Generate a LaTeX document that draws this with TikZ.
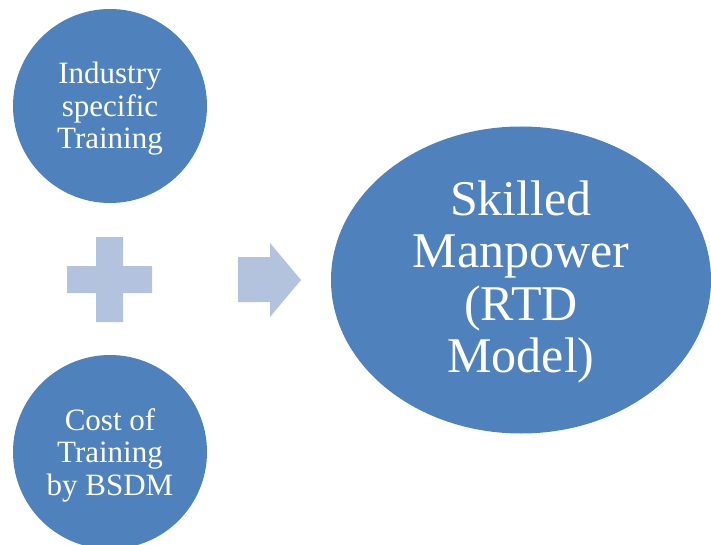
\documentclass[tikz,border=0pt]{standalone}
\usepackage{fontspec}
\setmainfont{Liberation Serif}
\usetikzlibrary{shapes.geometric}
\definecolor{blobblue}{HTML}{4F81BD}
\definecolor{signblue}{HTML}{B3C3DD}
\tikzset{
  blob/.style={fill=blobblue, draw=none, text=white, align=center, inner sep=0pt},
  smallblob/.style={blob, circle, minimum size=194pt, font=\fontsize{31}{32.5}\selectfont},
  bigblob/.style={blob, ellipse, minimum width=380pt, minimum height=307pt, font=\fontsize{50}{52.5}\selectfont},
  sign/.style={fill=signblue, draw=none}
}
\begin{document}
\begin{tikzpicture}[x=1pt, y=-1pt]
\useasboundingbox (0,0) rectangle (711,545);
\node[smallblob] (industry) at (110,106) {};
\node[white, align=center, font=\fontsize{31}{32.5}\selectfont, inner sep=0pt] (industrytext) at (110,109) {Industry\\specific\\Training};
\node[smallblob] (cost) at (110,452) {};
\node[white, align=center, font=\fontsize{31}{32.5}\selectfont, inner sep=0pt] (costtext) at (110,455) {Cost of\\Training\\by BSDM};
\node[bigblob] (skilled) at (521,280) {};
\node[white, align=center, font=\fontsize{50}{52.5}\selectfont, inner sep=0pt] (skilledtext) at (521,282) {Skilled\\Manpower\\(RTD\\Model)};
% plus sign
\coordinate (plus) at (109.5,279.5);
\fill[sign] ([shift={(-13.5,-42.5)}]plus) -- ([shift={(13.5,-42.5)}]plus) -- ([shift={(13.5,-13.5)}]plus) -- ([shift={(42.5,-13.5)}]plus) -- ([shift={(42.5,13.5)}]plus) -- ([shift={(13.5,13.5)}]plus) -- ([shift={(13.5,42.5)}]plus) -- ([shift={(-13.5,42.5)}]plus) -- ([shift={(-13.5,13.5)}]plus) -- ([shift={(-42.5,13.5)}]plus) -- ([shift={(-42.5,-13.5)}]plus) -- ([shift={(-13.5,-13.5)}]plus) -- cycle;
% arrow
\coordinate (arrowtail) at (238,280);
\coordinate (arrowtip) at (301,280);
\fill[sign] ([shift={(0,-23)}]arrowtail) -- ([shift={(32,-23)}]arrowtail) -- ([shift={(32,-37)}]arrowtail) -- (arrowtip) -- ([shift={(32,37)}]arrowtail) -- ([shift={(32,22)}]arrowtail) -- ([shift={(0,22)}]arrowtail) -- cycle;
\end{tikzpicture}
\end{document}
